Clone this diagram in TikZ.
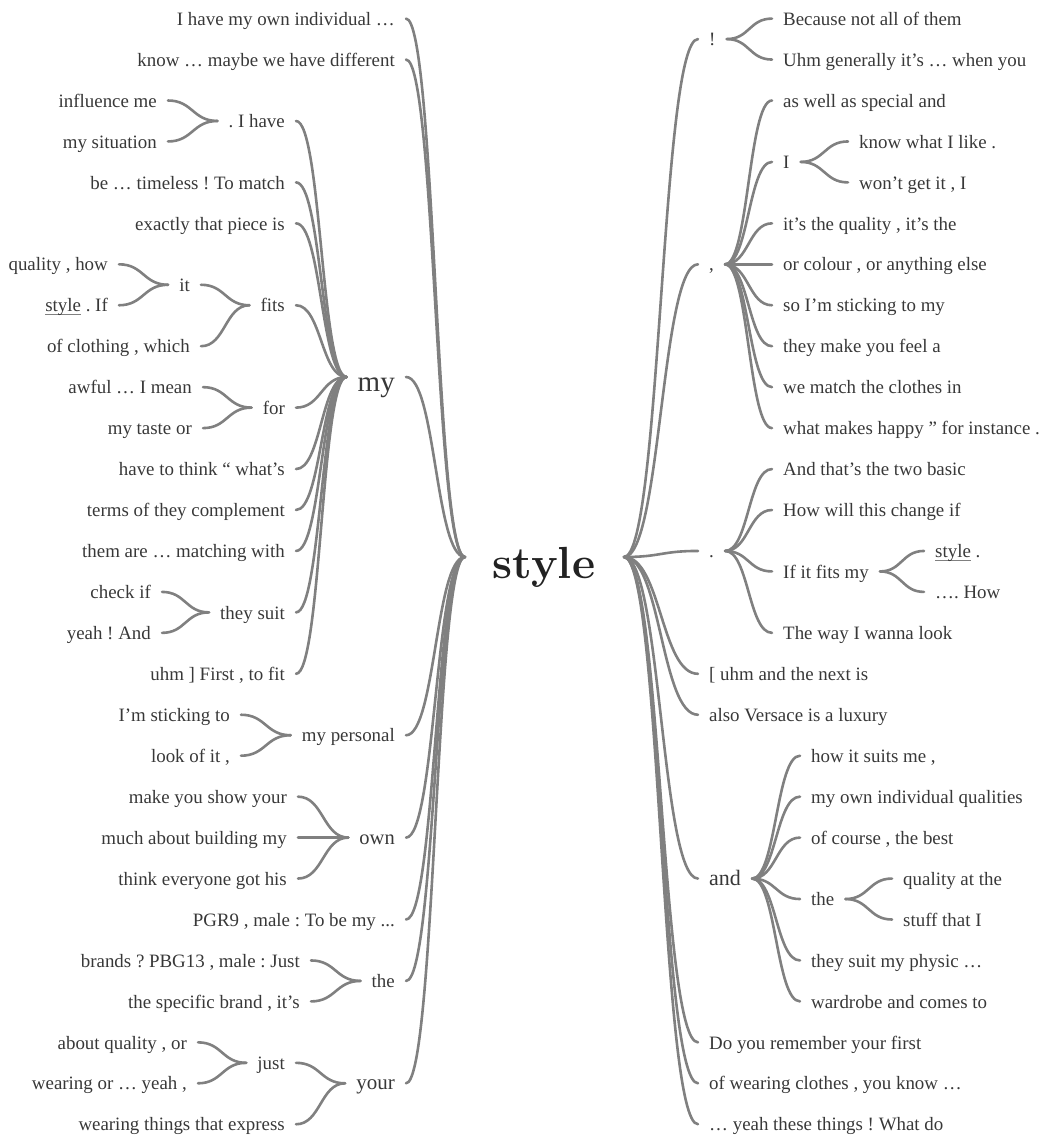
\documentclass[tikz,border=0pt]{standalone}
\usepackage{fontspec}
\usetikzlibrary{calc}
\newfontfamily\tf{Liberation Serif}
\frenchspacing
\definecolor{txt}{HTML}{383838}
\definecolor{rootc}{HTML}{222222}
\definecolor{linec}{HTML}{808080}
% vertical position of a row of the word tree (text position)
\newcommand\rowy[1]{23.1+40.95*(#1)}
% connectors attach a little above the text's mid line
\newcommand\lift{4.5pt}
% underlined keyword inside a phrase
\newcommand\ulword[1]{\setbox0\hbox{#1}\rlap{\color{linec}\rule[-3pt]{\wd0}{0.9pt}}\box0\relax}
% branch connector: horizontal tangents at both ends
\newcommand\wl[2]{\draw[link] let \p1=([yshift=\lift]#1), \p2=([yshift=\lift]#2) in (\p1) .. controls ({0.5*\x1+0.5*\x2},\y1) and ({0.5*\x1+0.5*\x2},\y2) .. (\p2);}
\tikzset{
  link/.style={draw=linec, line width=2.6pt, line cap=round},
  wt/.style={font=\tf\fontsize{18.9}{20}\selectfont, text=txt, inner xsep=11pt, inner ysep=0pt},
  lnode/.style={wt, anchor=mid east},
  rnode/.style={wt, anchor=mid west},
}
\begin{document}
\begin{tikzpicture}[x=1pt,y=-1pt]
\useasboundingbox (0,0) rectangle (1046,1138);

% root word
\node[font=\bfseries\fontsize{45}{47}\selectfont, text=rootc, anchor=base, inner sep=0pt] (root) at (544,578) {style};
\coordinate (rootL) at (465,561.5);
\coordinate (rootR) at (624,561.5);

% ---------------- left side ----------------
\node[lnode] (l1a) at (406,{\rowy{0}}) {I have my own individual …};
\node[lnode] (l1b) at (406,{\rowy{1}}) {know … maybe we have different};
\node[lnode, font=\tf\fontsize{29}{30}\selectfont] (my) at (406,389) {my};
\coordinate (myR) at ([yshift=7.5pt]my.mid east);
\coordinate (myL) at ([yshift=7.5pt]my.mid west);
\node[lnode] (mpers) at (406,{\rowy{17.5}}) {my personal};
\node[lnode, font=\tf\fontsize{20.5}{22}\selectfont] (own) at (406,{\rowy{20}}) {own};
\node[lnode] (pgr) at (406,{\rowy{22}}) {PGR9 , male : To be my ...};
\node[lnode] (lthe) at (406,{\rowy{23.5}}) {the};
\node[lnode, font=\tf\fontsize{21}{22}\selectfont] (your) at (406,{\rowy{26}}) {your};

% under "my"
\node[lnode] (ihave) at (296,{\rowy{2.5}}) {. I have};
\node[lnode] (tmatch) at (296,{\rowy{4}}) {be … timeless ! To match};
\node[lnode] (piece) at (296,{\rowy{5}}) {exactly that piece is};
\node[lnode] (fits) at (296,{\rowy{7}}) {fits};
\node[lnode] (for) at (296,{\rowy{9.5}}) {for};
\node[lnode] (think) at (296,{\rowy{11}}) {have to think “ what’s};
\node[lnode] (terms) at (296,{\rowy{12}}) {terms of they complement};
\node[lnode] (matchw) at (296,{\rowy{13}}) {them are … matching with};
\node[lnode] (tsuit) at (296,{\rowy{14.5}}) {they suit};
\node[lnode] (first) at (296,{\rowy{16}}) {uhm ] First , to fit};

% under "my personal"
\node[lnode] (stick) at (241,{\rowy{17}}) {I’m sticking to};
\node[lnode] (lookof) at (241,{\rowy{18}}) {look of it ,};
% under "own"
\node[lnode] (show) at (298,{\rowy{19}}) {make you show your};
\node[lnode] (build) at (298,{\rowy{20}}) {much about building my};
\node[lnode] (everyone) at (298,{\rowy{21}}) {think everyone got his};
% under "the"
\node[lnode] (brands) at (311,{\rowy{23}}) {brands ? PBG13 , male : Just};
\node[lnode] (specific) at (311,{\rowy{24}}) {the specific brand , it’s};
% under "your"
\node[lnode] (just) at (296,{\rowy{25.5}}) {just};
\node[lnode] (express) at (296,{\rowy{27}}) {wearing things that express};

% third level
\node[lnode] (influence) at (168,{\rowy{2}}) {influence me};
\node[lnode] (situation) at (168,{\rowy{3}}) {my situation};
\node[lnode] (it) at (201,{\rowy{6.5}}) {it};
\node[lnode] (clothing) at (201,{\rowy{8}}) {of clothing , which};
\node[lnode] (awful) at (203,{\rowy{9}}) {awful … I mean};
\node[lnode] (taste) at (203,{\rowy{10}}) {my taste or};
\node[lnode] (check) at (162,{\rowy{14}}) {check if};
\node[lnode] (yeahand) at (162,{\rowy{15}}) {yeah ! And};
\node[lnode] (aboutq) at (198,{\rowy{25}}) {about quality , or};
\node[lnode] (wearor) at (198,{\rowy{26}}) {wearing or … yeah ,};
% fourth level
\node[lnode] (qhow) at (119,{\rowy{6}}) {quality , how};
\node[lnode] (stif) at (119,{\rowy{7}}) {\ulword{style} . If};

% ---------------- right side ----------------
\node[rnode] (excl) at (698,{\rowy{0.5}}) {!};
\node[rnode] (comma) at (698,{\rowy{6}}) {,};
\node[rnode] (period) at (698,{\rowy{13}}) {.};
\node[rnode] (uhmnext) at (698,{\rowy{16}}) {[ uhm and the next is};
\node[rnode] (versace) at (698,{\rowy{17}}) {also Versace is a luxury};
\node[rnode, font=\tf\fontsize{22}{23}\selectfont] (and) at (698,{\rowy{21}}) {and};
\node[rnode] (remember) at (698,{\rowy{25}}) {Do you remember your first};
\node[rnode] (wearing) at (698,{\rowy{26}}) {of wearing clothes , you know …};
\node[rnode] (things) at (698,{\rowy{27}}) {… yeah these things ! What do};

\node[rnode] (because) at (772,{\rowy{0}}) {Because not all of them};
\node[rnode] (uhmgen) at (772,{\rowy{1}}) {Uhm generally it’s … when you};
\node[rnode] (aswell) at (772,{\rowy{2}}) {as well as special and};
\node[rnode] (rI) at (772,{\rowy{3.5}}) {I};
\node[rnode] (quality) at (772,{\rowy{5}}) {it’s the quality , it’s the};
\node[rnode] (colour) at (772,{\rowy{6}}) {or colour , or anything else};
\node[rnode] (sticking) at (772,{\rowy{7}}) {so I’m sticking to my};
\node[rnode] (feel) at (772,{\rowy{8}}) {they make you feel a};
\node[rnode] (clothes) at (772,{\rowy{9}}) {we match the clothes in};
\node[rnode] (happy) at (772,{\rowy{10}}) {what makes happy ” for instance .};
\node[rnode] (twobasic) at (772,{\rowy{11}}) {And that’s the two basic};
\node[rnode] (howwill) at (772,{\rowy{12}}) {How will this change if};
\node[rnode] (fitsmy) at (772,{\rowy{13.5}}) {If it fits my};
\node[rnode] (wanna) at (772,{\rowy{15}}) {The way I wanna look};

\node[rnode] (suits) at (800,{\rowy{18}}) {how it suits me ,};
\node[rnode] (ownind) at (800,{\rowy{19}}) {my own individual qualities};
\node[rnode] (course) at (800,{\rowy{20}}) {of course , the best};
\node[rnode] (rthe) at (800,{\rowy{21.5}}) {the};
\node[rnode] (physic) at (800,{\rowy{23}}) {they suit my physic …};
\node[rnode] (wardrobe) at (800,{\rowy{24}}) {wardrobe and comes to};

\node[rnode] (like) at (848,{\rowy{3}}) {know what I like .};
\node[rnode] (wont) at (848,{\rowy{4}}) {won’t get it , I};
\node[rnode] (rstyle) at (924,{\rowy{13}}) {\ulword{style} .};
\node[rnode] (how) at (924,{\rowy{14}}) {…. How};
\node[rnode] (qat) at (892,{\rowy{21}}) {quality at the};
\node[rnode] (stuff) at (892,{\rowy{22}}) {stuff that I};

% ---------------- connectors, left ----------------
\foreach \c in {l1a,l1b,mpers,own,pgr,lthe,your} {\wl{rootL}{\c.mid east}}
\wl{rootL}{myR}
\foreach \c in {ihave,tmatch,piece,fits,for,think,terms,matchw,tsuit,first} {\wl{myL}{\c.mid east}}
\foreach \c in {stick,lookof} {\wl{mpers.mid west}{\c.mid east}}
\foreach \c in {show,build,everyone} {\wl{own.mid west}{\c.mid east}}
\foreach \c in {brands,specific} {\wl{lthe.mid west}{\c.mid east}}
\foreach \c in {just,express} {\wl{your.mid west}{\c.mid east}}
\foreach \c in {influence,situation} {\wl{ihave.mid west}{\c.mid east}}
\foreach \c in {it,clothing} {\wl{fits.mid west}{\c.mid east}}
\foreach \c in {awful,taste} {\wl{for.mid west}{\c.mid east}}
\foreach \c in {check,yeahand} {\wl{tsuit.mid west}{\c.mid east}}
\foreach \c in {aboutq,wearor} {\wl{just.mid west}{\c.mid east}}
\foreach \c in {qhow,stif} {\wl{it.mid west}{\c.mid east}}

% ---------------- connectors, right ----------------
\foreach \c in {excl,comma,period,uhmnext,versace,and,remember,wearing,things} {\wl{rootR}{\c.mid west}}
\foreach \c in {because,uhmgen} {\wl{excl.mid east}{\c.mid west}}
\foreach \c in {aswell,rI,quality,colour,sticking,feel,clothes,happy} {\wl{comma.mid east}{\c.mid west}}
\foreach \c in {twobasic,howwill,fitsmy,wanna} {\wl{period.mid east}{\c.mid west}}
\foreach \c in {suits,ownind,course,rthe,physic,wardrobe} {\wl{and.mid east}{\c.mid west}}
\foreach \c in {like,wont} {\wl{rI.mid east}{\c.mid west}}
\foreach \c in {rstyle,how} {\wl{fitsmy.mid east}{\c.mid west}}
\foreach \c in {qat,stuff} {\wl{rthe.mid east}{\c.mid west}}
\end{tikzpicture}
\end{document}
